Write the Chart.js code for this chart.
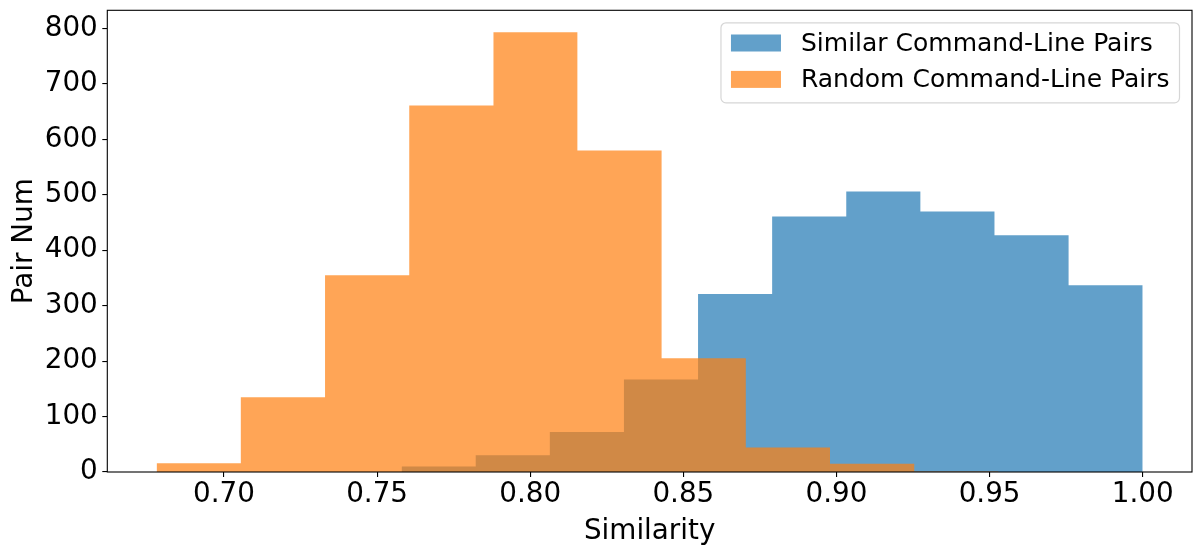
<!DOCTYPE html>
<html>
<head>
<meta charset="utf-8">
<title>Similarity histogram</title>
<script src="https://cdn.jsdelivr.net/npm/chart.js@4.4.1/dist/chart.umd.min.js"></script>
<style>
  html, body { margin: 0; padding: 0; background: #fff; }
  canvas { display: block; }
</style>
</head>
<body>
<canvas id="histChart" width="1201" height="553"></canvas>
<script>
const seriesLabels = ['Similar Command-Line Pairs', 'Random Command-Line Pairs'];
const similarEdges = [0.758, 0.7822, 0.8064, 0.8306, 0.8548, 0.879, 0.9032, 0.9274, 0.9516, 0.9758, 1.0];
const similarCounts = [10, 30, 72, 167, 321, 461, 506, 470, 427, 337];
const randomEdges = [0.678, 0.7055, 0.733, 0.7605, 0.788, 0.8154, 0.8429, 0.8704, 0.8979, 0.9254, 0.9529];
const randomCounts = [16, 135, 355, 661, 793, 580, 205, 44, 15, 1];
const xTicks = [0.70, 0.75, 0.80, 0.85, 0.90, 0.95, 1.00];
const yTicks = [0, 100, 200, 300, 400, 500, 600, 700, 800];

const seriesColors = ['rgba(31, 119, 180, 0.7)', 'rgba(255, 127, 14, 0.7)'];
const tickFont = { family: 'DejaVu Sans', size: 27.8 };
const legendFont = '25px "DejaVu Sans"';

// convierte bordes + cuentas en puntos para una linea escalonada rellena
function histPoints(edges, counts) {
    const last = edges.length - 1;
    const pts = [{ x: edges[0], y: 0 }];
    counts.forEach((c, i) => pts.push({ x: edges[i], y: c }));
    pts.push({ x: edges[last], y: counts[counts.length - 1] });
    pts.push({ x: edges[last], y: 0 });
    return pts;
}

// limites como matplotlib: 5% de margen en x, 5% arriba en y
const allEdges = similarEdges.concat(randomEdges);
const xLo = Math.min(...allEdges);
const xHi = Math.max(...similarEdges, ...randomEdges.slice(0, -1));
const xMin = xLo - 0.05 * (xHi - xLo);
const xMax = xHi + 0.05 * (xHi - xLo);
const yMax = Math.max(...similarCounts, ...randomCounts) * 1.05;

// marco completo alrededor del area del grafico
const framePlugin = {
    id: 'frame',
    afterDatasetsDraw(chart) {
        const { ctx, chartArea: a } = chart;
        ctx.save();
        ctx.strokeStyle = '#000';
        ctx.lineWidth = 1.1;
        ctx.strokeRect(a.left, a.top, a.right - a.left, a.bottom - a.top);
        ctx.restore();
    }
};

// leyenda dentro del grafico, arriba a la derecha
const legendPlugin = {
    id: 'insideLegend',
    afterDraw(chart) {
        const { ctx, chartArea: a } = chart;
        ctx.save();
        ctx.font = legendFont;
        const textW = Math.max(...seriesLabels.map(t => ctx.measureText(t).width));
        const boxW = 10 + 50 + 20 + textW + 10;
        const boxH = 80;
        const boxX = a.right - 12.5 - boxW;
        const boxY = a.top + 12.5;

        ctx.beginPath();
        ctx.roundRect(boxX, boxY, boxW, boxH, 5);
        ctx.fillStyle = 'rgba(255, 255, 255, 0.8)';
        ctx.fill();
        ctx.strokeStyle = '#d6d6d6';
        ctx.lineWidth = 1.2;
        ctx.stroke();

        const rowCenters = [20.2, 56.6];
        const baselines = [27.7, 64.4];
        seriesLabels.forEach((label, i) => {
            ctx.fillStyle = seriesColors[i];
            ctx.fillRect(boxX + 10, boxY + rowCenters[i] - 8.5, 50, 17);
            ctx.fillStyle = '#000';
            ctx.textBaseline = 'alphabetic';
            ctx.textAlign = 'left';
            ctx.fillText(label, boxX + 80, boxY + baselines[i]);
        });
        ctx.restore();
    }
};

function inicializarHistograma() {
    const canvas = document.getElementById('histChart');
    if (!canvas) return;

    new Chart(canvas, {
        type: 'line',
        data: {
            datasets: [{
                label: seriesLabels[0],
                data: histPoints(similarEdges, similarCounts),
                backgroundColor: seriesColors[0],
                borderColor: 'transparent',
                borderWidth: 0,
                stepped: true,
                fill: 'origin',
                order: 1
            }, {
                label: seriesLabels[1],
                data: histPoints(randomEdges, randomCounts),
                backgroundColor: seriesColors[1],
                borderColor: 'transparent',
                borderWidth: 0,
                stepped: true,
                fill: 'origin',
                order: 0
            }]
        },
        options: {
            responsive: false,
            animation: false,
            events: [],
            layout: { padding: { top: 10.3, right: 9, left: 0, bottom: 0 } },
            elements: { point: { radius: 0, hoverRadius: 0 } },
            plugins: { legend: { display: false }, tooltip: { enabled: false } },
            scales: {
                x: {
                    type: 'linear',
                    min: xMin,
                    max: xMax,
                    afterBuildTicks: s => { s.ticks = xTicks.map(v => ({ value: v })); },
                    afterFit: s => {
                        s.height = 81;
                        s.paddingLeft = 0;
                        s.paddingRight = 0;
                    },
                    ticks: {
                        callback: v => v.toFixed(2),
                        font: tickFont,
                        color: '#000',
                        padding: 1,
                        maxRotation: 0,
                        autoSkip: false
                    },
                    grid: { drawOnChartArea: false, drawTicks: true, tickLength: 5, color: '#000', lineWidth: 1.1 },
                    border: { display: false },
                    title: { display: true, text: 'Similarity', font: tickFont, color: '#000', padding: { top: 0, bottom: 4.5 } }
                },
                y: {
                    type: 'linear',
                    min: 0,
                    max: yMax,
                    afterBuildTicks: s => { s.ticks = yTicks.map(v => ({ value: v })); },
                    afterFit: s => {
                        s.width = 107.3;
                        s.paddingTop = 0;
                        s.paddingBottom = 0;
                    },
                    ticks: { font: tickFont, color: '#000', padding: 4.5, autoSkip: false },
                    grid: { drawOnChartArea: false, drawTicks: true, tickLength: 5, color: '#000', lineWidth: 1.1 },
                    border: { display: false },
                    title: { display: true, text: 'Pair Num', font: tickFont, color: '#000', padding: { top: 8.3, bottom: 0 } }
                }
            }
        },
        plugins: [framePlugin, legendPlugin]
    });
}

document.addEventListener('DOMContentLoaded', inicializarHistograma);
</script>
</body>
</html>
